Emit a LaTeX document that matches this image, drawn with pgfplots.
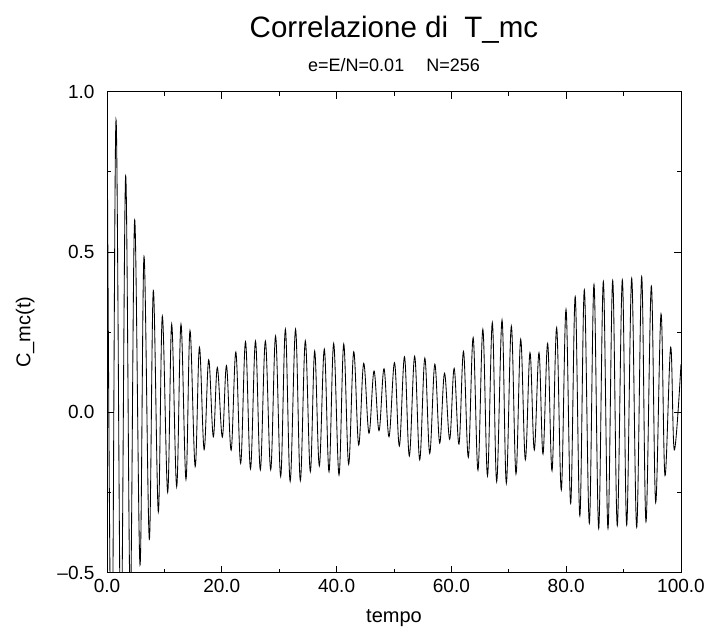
\documentclass[border=0pt]{standalone}
\usepackage{pgfplots}
\pgfplotsset{compat=1.18}
\usepackage{fontspec}
\setmainfont{Liberation Sans}
\pgfplotstableread{
x y
0.00 1.000
0.80 -0.920
1.57 0.912
2.42 -0.760
3.25 0.737
4.05 -0.600
4.82 0.600
5.75 -0.476
6.45 0.486
7.37 -0.396
8.07 0.380
8.94 -0.310
9.64 0.300
10.57 -0.249
11.27 0.275
12.14 -0.232
12.89 0.275
13.76 -0.209
14.46 0.255
15.36 -0.169
16.10 0.203
16.92 -0.116
17.71 0.164
18.52 -0.076
19.22 0.140
20.09 -0.077
20.82 0.146
21.63 -0.118
22.45 0.188
23.29 -0.159
24.13 0.220
25.00 -0.176
25.87 0.222
26.71 -0.179
27.59 0.222
28.52 -0.179
29.37 0.238
30.26 -0.200
31.08 0.259
31.91 -0.215
32.85 0.259
33.68 -0.213
34.55 0.223
35.42 -0.185
36.18 0.191
36.99 -0.167
37.86 0.197
38.68 -0.185
39.49 0.215
40.42 -0.195
41.24 0.213
42.10 -0.162
42.98 0.189
43.85 -0.102
44.72 0.153
45.64 -0.065
46.52 0.129
47.39 -0.057
48.26 0.136
49.13 -0.076
50.09 0.155
50.93 -0.105
51.83 0.173
52.67 -0.136
53.60 0.175
54.48 -0.148
55.37 0.169
56.22 -0.128
57.11 0.150
57.96 -0.096
58.80 0.122
59.70 -0.084
60.48 0.137
61.32 -0.099
62.11 0.190
62.95 -0.140
63.79 0.233
64.63 -0.180
65.48 0.259
66.29 -0.198
67.13 0.280
67.89 -0.216
68.82 0.288
69.57 -0.221
70.44 0.269
71.25 -0.192
72.07 0.228
72.88 -0.148
73.69 0.186
74.44 -0.117
75.26 0.186
75.96 -0.130
76.77 0.215
77.53 -0.182
78.34 0.264
79.15 -0.242
79.97 0.321
80.78 -0.284
81.57 0.361
82.38 -0.323
83.16 0.382
84.03 -0.346
84.84 0.399
85.66 -0.362
86.47 0.408
87.28 -0.362
88.10 0.411
88.90 -0.353
89.78 0.413
90.54 -0.351
91.41 0.418
92.28 -0.358
93.15 0.423
93.90 -0.341
94.83 0.394
95.59 -0.281
96.52 0.307
97.21 -0.197
98.20 0.203
98.83 -0.117
100.00 0.150
}\corr
\begin{document}
\begin{tikzpicture}
\useasboundingbox (0,0) rectangle (710pt,634pt);
\begin{axis}[
  at={(107pt,61.3pt)}, anchor=south west,
  scale only axis, width=574pt, height=481pt,
  xmin=0, xmax=100, ymin=-0.5, ymax=1.0,
  xtick={0,20,40,60,80,100},
  xticklabels={0.0,20.0,40.0,60.0,80.0,100.0},
  minor xtick={10,30,50,70,90},
  ytick={-0.5,0,0.5,1.0},
  yticklabels={--0.5,0.0,0.5,1.0},
  minor ytick={-0.25,0.25,0.75},
  tick align=inside,
  major tick length=7pt, minor tick length=4pt,
  tick style={black, line width=0.8pt},
  axis line style={line width=0.9pt},
  ticklabel style={font=\fontsize{19}{21}\selectfont},
  xticklabel style={yshift=-3pt},
  yticklabel style={xshift=-9pt},
  xlabel={tempo},
  ylabel={C\_mc(t)},
  label style={font=\fontsize{20}{22}\selectfont},
  xlabel style={yshift=-10pt},
  ylabel style={yshift=16pt},
  clip mode=individual,
]
\addplot[black, line width=0.85pt, smooth, tension=0.6] table[x=x,y=y]{\corr};
\node[font=\fontsize{29.5}{32}\selectfont, anchor=base] at (rel axis cs:0.5,1) [yshift=54pt] {Correlazione di\ \ T\_mc};
\node[font=\fontsize{18}{20}\selectfont] at (rel axis cs:0.5,1) [yshift=27pt] {e=E/N=0.01\hspace{22pt}N=256};
\end{axis}
\end{tikzpicture}
\end{document}
